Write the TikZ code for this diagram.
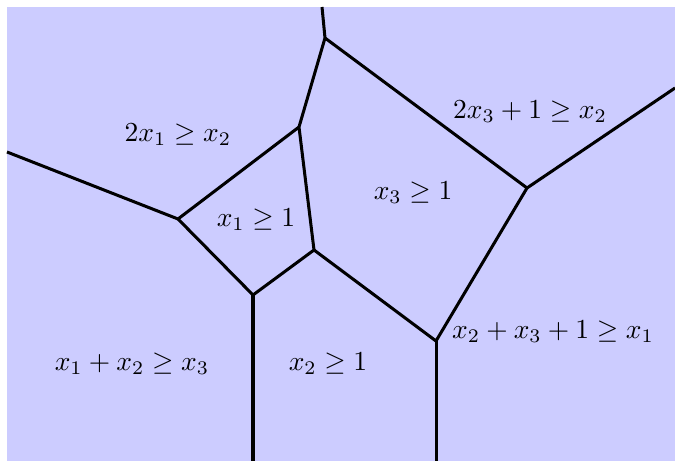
\documentclass[tikz,border=0pt]{standalone}
\usepackage{amsmath}
\usepackage{xcolor}
\definecolor{cellBlue}{HTML}{CCCCFF}
\usepackage{tikz}

\begin{document}
\begin{tikzpicture}[x=0.3636pt, y=-0.3636pt, wall/.style={line width=1.1pt, line join=round}]
  \useasboundingbox (0,0) rectangle (675,461);
  % background
  \fill[cellBlue] (7,7) rectangle (675,461);
  % vertices of the subdivision
  \coordinate (T)  at (322,7);     % top border
  \coordinate (B)  at (325,38);
  \coordinate (C)  at (299,127);
  \coordinate (D)  at (178,219);
  \coordinate (E)  at (314,250);
  \coordinate (F)  at (253,295);
  \coordinate (G)  at (436,341);
  \coordinate (H)  at (527,188);
  % ends on the border
  \coordinate (L)  at (7,152);
  \coordinate (R)  at (675,88);
  \coordinate (SF) at (253,461);
  \coordinate (SG) at (436,461);
  % walls
  \draw[wall] (T) -- (B) -- (C) -- (D) -- (F) -- (E) -- (C);
  \draw[wall] (B) -- (H) -- (R);
  \draw[wall] (D) -- (L);
  \draw[wall] (E) -- (G) -- (H);
  \draw[wall] (F) -- (SF);
  \draw[wall] (G) -- (SG);
  % cell labels
  \node (l1) at (178,135) {$2x_1 \geq x_2$};
  \node (l2) at (256,220) {$x_1 \geq 1$};
  \node (l3) at (413,193) {$x_3 \geq 1$};
  \node (l4) at (530,112) {$2x_3 + 1 \geq x_2$};
  \node (l5) at (553,332) {$x_2 + x_3 + 1 \geq x_1$};
  \node (l6) at (132,364) {$x_1 + x_2 \geq x_3$};
  \node (l7) at (328,364) {$x_2 \geq 1$};
\end{tikzpicture}
\end{document}
